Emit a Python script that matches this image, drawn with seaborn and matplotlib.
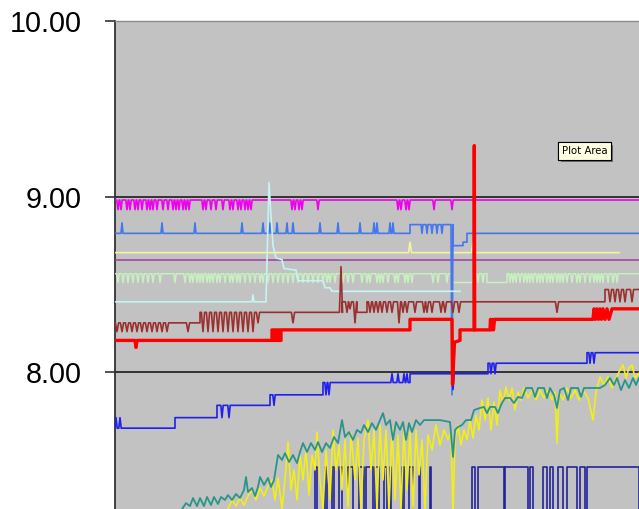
import matplotlib
matplotlib.use("Agg")
import matplotlib.pyplot as plt
import matplotlib.patheffects as pe
import seaborn as sns

# ---- data (x = sample index, y = reading) ----
x_end = 524

magenta_base = 8.98
magenta_dip = 8.925
magenta_dips = [3, 6, 12, 15, 20, 23, 27, 32, 35, 38, 42, 48, 53, 58, 61, 64, 68, 71, 74,
                88, 91, 96, 101, 108, 115, 118, 123, 126, 130, 133, 136,
                177, 180, 184, 187, 203, 283, 286, 291, 294, 319, 337]

cornflower_steps = [(0, 8.79), (295, 8.84), (338, 8.72), (348, 8.74), (352, 8.79)]
cornflower_spikes = ([(p, 8.85) for p in [7, 47, 80, 127, 148, 155, 162, 172, 178, 205, 223,
                                          245, 259, 262, 275, 278]]
                     + [(p, 8.79) for p in [307, 312, 317, 322, 327]]
                     + [(337, 7.87)])

paleyellow_steps = [(0, 8.68)]
paleyellow_spikes = [(295, 8.74), (358, 8.74)]
paleyellow_end = 504

purple_steps = [(0, 8.64)]

green_steps = [(0, 8.56), (337, 8.51), (358, 8.56), (372, 8.51), (392, 8.56)]
green_dip = 8.51
green_dips = [3, 8, 13, 18, 23, 28, 33, 38, 45, 60, 70, 75, 78, 82, 85, 88, 92, 95, 98, 102,
              105, 110, 115, 118, 122, 125, 130, 135, 140, 145, 148, 153, 158, 163, 168, 173,
              178, 183, 188, 193, 198, 203, 208, 212, 215, 220, 228, 233, 238, 247, 252, 255,
              262, 265, 268, 273, 280, 283, 290, 293, 297, 318, 323, 332,
              360, 363, 368,
              395, 398, 401, 405, 409, 412, 415, 418, 422, 425, 428, 432, 435, 438, 442, 445,
              448, 452, 457, 462, 465, 470, 475, 479, 482, 485, 488, 493, 498, 502]

cyan_pts = [(0, 8.40), (137, 8.40), (138, 8.44), (139, 8.40), (151, 8.40), (154, 9.08),
            (156, 8.89), (158, 8.72), (161, 8.65), (167, 8.64), (169, 8.59), (181, 8.58),
            (183, 8.52), (208, 8.52), (210, 8.48), (215, 8.48), (217, 8.46), (345, 8.46)]

maroon_steps = [(0, 8.28), (85, 8.34), (227, 8.40), (242, 8.34), (252, 8.40), (490, 8.47)]
maroon_spikes = ([(p, 8.23) for p in [2, 7, 12, 17, 22, 27, 32, 37, 42, 47, 52, 73,
                                      88, 93, 98, 103, 108, 113, 118, 123, 128, 133, 138]]
                 + [(143, 8.28), (178, 8.28), (226, 8.60), (232, 8.34), (235, 8.36), (240, 8.28)]
                 + [(p, 8.34) for p in [255, 259, 263, 267, 272, 277, 288, 292, 300, 309, 312,
                                        317, 326, 330, 338, 344, 442]]
                 + [(284, 8.28)]
                 + [(p, 8.40) for p in [495, 500, 505, 510, 517]])

red_pts = [(0, 8.18), (20, 8.18), (21, 8.14), (22, 8.18), (157, 8.18), (157, 8.24),
           (158, 8.24), (158, 8.18), (160, 8.18), (160, 8.24), (161, 8.24), (161, 8.18),
           (163, 8.18), (163, 8.24), (164, 8.24), (164, 8.18), (166, 8.18), (166, 8.24),
           (295, 8.24), (295, 8.30), (337, 8.30), (337.5, 7.93), (338.5, 8.05), (339.5, 8.17),
           (345, 8.18), (345, 8.24), (359, 8.24), (359.3, 9.29), (359.7, 8.24), (375, 8.24),
           (375.5, 8.30), (376.5, 8.24), (377.5, 8.30), (378.5, 8.24), (379.5, 8.30),
           (478, 8.30), (479, 8.36), (480.5, 8.30), (482, 8.36), (483.5, 8.30), (485, 8.36),
           (486.5, 8.30), (488, 8.36), (490, 8.30), (492, 8.36), (494, 8.30), (497, 8.36),
           (524, 8.36)]

blue_steps = [(0, 7.68), (60, 7.74), (102, 7.81), (155, 7.87), (208, 7.94), (295, 7.99),
              (373, 8.05), (472, 8.11)]
blue_spikes = [(1, 7.74), (5, 7.74), (107, 7.74), (114, 7.74), (159, 7.81), (211, 7.87),
               (214, 7.87), (277, 7.99), (283, 7.99), (289, 7.99), (292, 7.99), (338, 7.90),
               (376, 7.99), (380, 7.99), (475, 8.05), (479, 8.05)]

teal_pts = [(67, 7.219), (71, 7.253), (75, 7.236), (78, 7.282), (82, 7.236), (85, 7.282),
            (89, 7.236), (92, 7.288), (96, 7.242), (99, 7.288), (103, 7.248), (106, 7.288),
            (110, 7.271), (113, 7.299), (117, 7.271), (121, 7.305), (125, 7.282), (129, 7.328),
            (131, 7.402), (133, 7.316), (137, 7.339), (140, 7.293), (143, 7.345), (145, 7.402),
            (149, 7.356), (153, 7.396), (156, 7.345), (159, 7.385), (163, 7.527), (167, 7.499),
            (170, 7.538), (174, 7.487), (178, 7.527), (182, 7.481), (185, 7.544), (188, 7.595),
            (192, 7.544), (196, 7.595), (200, 7.556), (203, 7.601), (207, 7.544), (211, 7.595),
            (215, 7.567), (219, 7.630), (223, 7.595), (227, 7.726), (230, 7.630), (234, 7.658),
            (238, 7.613), (242, 7.670), (246, 7.653), (249, 7.698), (253, 7.658), (257, 7.709),
            (261, 7.670), (265, 7.726), (268, 7.766), (271, 7.698), (275, 7.726), (278, 7.613),
            (281, 7.715), (285, 7.670), (288, 7.715), (291, 7.613), (294, 7.709), (297, 7.658),
            (301, 7.726), (305, 7.698), (309, 7.726), (313, 7.726), (325, 7.726), (335, 7.715),
            (338, 7.516), (340, 7.670), (343, 7.687), (347, 7.698), (351, 7.726), (356, 7.726),
            (359, 7.783), (365, 7.795), (369, 7.801), (372, 7.766), (375, 7.801), (380, 7.801),
            (383, 7.766), (386, 7.812), (390, 7.852), (395, 7.852), (399, 7.823), (403, 7.858),
            (407, 7.852), (411, 7.909), (417, 7.909), (420, 7.858), (423, 7.909), (429, 7.909),
            (432, 7.852), (435, 7.909), (439, 7.869), (442, 7.795), (445, 7.897), (449, 7.909),
            (453, 7.840), (456, 7.909), (463, 7.909), (466, 7.858), (469, 7.909), (485, 7.909),
            (490, 7.926), (495, 7.966), (499, 7.926), (502, 7.966), (506, 7.897), (510, 7.954),
            (514, 7.909), (518, 7.966), (521, 7.926), (524, 7.966)]

yellow_pts = [(113, 7.219), (117, 7.271), (121, 7.236), (125, 7.282), (129, 7.242), (133, 7.293),
              (137, 7.328), (141, 7.271), (145, 7.339), (149, 7.293), (153, 7.350), (157, 7.385),
              (160, 7.271), (163, 7.396), (167, 7.219), (170, 7.385), (173, 7.601), (176, 7.328),
              (179, 7.442), (182, 7.271), (185, 7.527), (188, 7.385), (191, 7.556), (194, 7.299),
              (197, 7.527), (200, 7.442), (202, 7.658), (205, 7.385), (208, 7.219), (211, 7.556),
              (215, 7.271), (218, 7.670), (221, 7.442), (224, 7.584), (227, 7.328), (230, 7.613),
              (233, 7.219), (236, 7.653), (240, 7.385), (243, 7.624), (246, 7.219), (249, 7.613),
              (253, 7.726), (256, 7.442), (259, 7.670), (262, 7.219), (265, 7.698), (268, 7.385),
              (271, 7.670), (274, 7.219), (277, 7.681), (280, 7.271), (283, 7.641), (286, 7.219),
              (289, 7.681), (292, 7.328), (295, 7.658), (298, 7.219), (301, 7.670), (304, 7.413),
              (307, 7.613), (310, 7.219), (313, 7.641), (317, 7.556), (321, 7.698), (325, 7.584),
              (329, 7.670), (333, 7.613), (336, 7.658), (338, 7.185), (340, 7.613), (343, 7.698),
              (346, 7.584), (349, 7.670), (352, 7.613), (355, 7.726), (358, 7.624), (361, 7.755),
              (364, 7.670), (367, 7.840), (370, 7.726), (373, 7.852), (376, 7.670), (379, 7.829),
              (382, 7.698), (385, 7.897), (388, 7.823), (391, 7.915), (394, 7.840), (397, 7.909),
              (400, 7.783), (403, 7.886), (406, 7.840), (409, 7.909), (413, 7.852), (417, 7.897),
              (421, 7.840), (425, 7.897), (429, 7.852), (433, 7.897), (437, 7.840), (440, 7.886),
              (442, 7.595), (444, 7.886), (448, 7.840), (452, 7.909), (456, 7.852), (460, 7.897),
              (464, 7.840), (468, 7.897), (473, 7.852), (478, 7.726), (481, 7.886), (485, 7.972),
              (489, 7.926), (493, 7.972), (497, 7.909), (501, 7.966), (505, 8.011), (508, 8.040),
              (511, 7.966), (514, 8.023), (517, 8.040), (520, 7.966), (524, 7.994)]

navy_low = 7.10
navy_high = 7.46
navy_on = [(200, 202), (210, 212), (217, 219), (224, 227), (233, 238), (244, 249), (251, 258),
           (260, 264), (269, 272), (275, 276), (287, 289), (294, 298), (304, 305), (315, 316),
           (357, 360), (363, 389), (390, 413), (415, 418), (428, 432), (435, 438), (443, 448),
           (452, 462), (465, 470), (472, 524)]


def step_trace(steps, spikes, end, w=1.2):
    """Polyline for a stepped reading with short excursions."""
    def level(x):
        lv = steps[0][1]
        for sx, sl in steps:
            if x >= sx:
                lv = sl
        return lv
    events = [(sx, 0, sl) for sx, sl in steps[1:]] + [(px, 1, pv) for px, pv in spikes]
    events.sort(key=lambda e: (e[0], e[1]))
    xs, ys = [steps[0][0]], [steps[0][1]]
    for x, kind, v in events:
        if kind == 0:
            xs += [x, x]
            ys += [ys[-1], v]
        else:
            b = level(x)
            xs += [x - w, x, x + w]
            ys += [b, v, b]
    xs.append(end)
    ys.append(level(end))
    return xs, ys


def split(pts):
    return [p[0] for p in pts], [p[1] for p in pts]


def pulses(on, low, high):
    xs, ys = [on[0][0] - 1], [low]
    for a, b in on:
        xs += [a, a, b, b]
        ys += [low, high, high, low]
    return xs, ys


# ---- figure ----
fig = plt.figure(figsize=(6.39, 5.09), dpi=100)
fig.patch.set_facecolor("white")
ax = fig.add_axes([115 / 639, 0, 524 / 639, 488 / 509])
ax.set_facecolor("#c2c2c2")
ax.set_xlim(0, x_end)
ax.set_ylim(7.2194, 10.0)

for lvl in (8.0, 9.0):
    ax.axhline(lvl, color="#1a1a1a", lw=1.2, zorder=1)

series = [
    (step_trace(purple_steps, [], x_end), "#a03c9c", 1.1),
    (step_trace(paleyellow_steps, paleyellow_spikes, paleyellow_end, w=1.5), "#f6f2a8", 1.2),
    (step_trace(green_steps, [(p, green_dip) for p in green_dips], x_end), "#c8f0c0", 1.1),
    (step_trace([(0, magenta_base)], [(p, magenta_dip) for p in magenta_dips], x_end), "#f000f0", 1.2),
    (step_trace(cornflower_steps, cornflower_spikes, x_end, w=1.0), "#4477ee", 1.2),
    (split(cyan_pts), "#c4f4f4", 1.2),
    (step_trace(maroon_steps, maroon_spikes, x_end, w=1.6), "#9a2f2f", 1.2),
    (step_trace(blue_steps, blue_spikes, x_end, w=1.2), "#2020ee", 1.2),
    (pulses(navy_on, navy_low, navy_high), "#24249a", 1.2),
    (split(yellow_pts), "#f2ee18", 1.2),
    (split(teal_pts), "#2a948a", 1.3),
    (split(red_pts), "#ff0000", 2.4),
]
for (xs, ys), color, lw in series:
    sns.lineplot(x=xs, y=ys, sort=False, estimator=None, color=color, linewidth=lw,
                 ax=ax, legend=False, zorder=3)

# axes frame and ticks
for side in ("right", "bottom"):
    ax.spines[side].set_visible(False)
ax.spines["left"].set_color("#333333")
ax.spines["left"].set_linewidth(1.3)
ax.spines["top"].set_color("#8a8a8a")
ax.spines["top"].set_linewidth(1.0)
ax.set_xticks([])
ax.set_yticks([8.0, 9.0, 10.0])
ax.set_yticklabels(["8.00", "9.00", "10.00"], fontsize=20.7, family="Liberation Sans",
                   color="black")
ax.tick_params(axis="y", direction="out", length=7.2, width=1.2, color="#333333", pad=17)
ax.set_xlabel("")
ax.set_ylabel("")

# hover tip with a drop shadow on its box
tip = ax.text(447, 9.259, "Plot Area", fontsize=7.3, family="DejaVu Sans", va="center",
              ha="left", color="black", zorder=6,
              bbox=dict(boxstyle="square,pad=0.35", fc="#ffffe1", ec="black", lw=0.8))
tip.get_bbox_patch().set_path_effects(
    [pe.withSimplePatchShadow(offset=(1.5, -1.5), shadow_rgbFace="#707070", alpha=1.0),
     pe.Normal()])

fig.savefig("out.png", dpi=100)
